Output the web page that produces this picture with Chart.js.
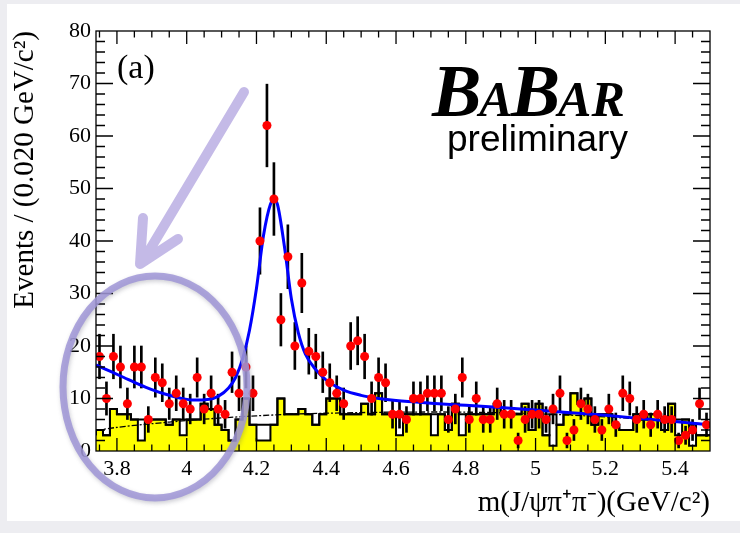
<!DOCTYPE html>
<html lang="en">
<head>
<meta charset="UTF-8">
<title>m(J/psi pi pi)</title>
<script src="https://cdn.jsdelivr.net/npm/chart.js@4.4.0/dist/chart.umd.min.js"></script>
<style>
  html, body { margin: 0; padding: 0; background: #ededf1; }
  #panel { position: absolute; left: 7px; top: 4px; width: 733px; height: 517px; background: #fff; }
  #wrap { position: absolute; left: 0; top: 0; width: 740px; height: 533px; }
</style>
</head>
<body>
<div id="panel"></div>
<div id="wrap"><canvas id="myChart" width="740" height="533"></canvas></div>
<script>
// histogram binning (GeV/c^2)
const binStart = 3.74;
const binWidth = 0.02;

// data points, one per bin
const eventCounts = [
  18,10,18,16,9,16,16,6,14,13,
  9,11,9,8,14,8,11,8,7,15,
  11,16,11,40,62,48,25,37,20,32,
  19,18,15,13,11,9,20,21,18,10,
  14,13,7,7,6,10,10,11,11,11,
  6,8,14,6,10,6,6,9,7,7,
  2,6,7,7,6,8,11,2,4,9,
  8,6,4,8,5,11,10,6,7,5,
  7,6,6,2,3,4,9,5
];

// yellow (filled) sideband histogram
const sidebandFilled = [
  3,4,3,8,7,7,6,2,6,6,
  6,5,6,3,6,6,9,8,5,4,
  2,6,10,5,2,2,5,10,7,7,
  8,7,5,7,10,10,7,7,7,9,
  7,11,7,7,3,7,7,7,7,3,
  7,4,9,3,7,7,7,7,9,7,
  7,7,9,4,9,3,1,5,7,11,
  9,10,5,7,7,5,4,4,7,6,
  7,7,4,9,3,6,1,3
];

// open (outline) histogram
const sidebandOutline = [
  3,4,3,8,7,7,6,6,6,6,
  6,5,6,6,6,6,9,8,5,4,
  2,6,10,5,5,5,5,10,7,7,
  8,7,5,7,10,10,7,7,7,9,
  7,11,7,7,7,7,7,7,7,7,
  7,4,9,7,7,7,7,7,9,7,
  7,7,9,4,9,3,7,5,7,11,
  9,10,5,7,7,5,4,4,7,6,
  7,7,4,9,6,6,5,3
];

// total fit (blue)
const fitX = [3.74,3.78,3.82,3.86,3.90,3.94,3.98,4.02,4.06,4.09,4.12,4.14,4.16,4.18,4.20,4.22,4.24,4.25,4.26,4.28,4.30,4.32,4.34,4.37,4.40,4.45,4.50,4.55,4.60,4.70,4.80,4.90,5.00,5.10,5.20,5.30,5.40,5.50];
const fitY = [16.4,15.2,14.0,12.8,11.7,10.8,10.1,9.7,9.8,10.4,12.0,14.0,17.5,23,31,41,47,47.8,47,39,29,22.5,18.5,15.5,13.5,11.6,10.6,10.0,9.6,9.1,8.7,8.3,7.8,7.3,6.8,6.2,5.6,5.0];

// background component (dashed)
const bkgX = [3.74,3.80,3.90,4.00,4.10,4.20,4.30,4.40,4.60,4.80,5.00,5.20,5.40,5.50];
const bkgY = [3.9,4.5,5.2,5.8,6.3,6.7,7.0,7.2,7.4,7.4,7.1,6.5,5.6,5.1];

const xTickValues = [3.8, 4.0, 4.2, 4.4, 4.6, 4.8, 5.0, 5.2, 5.4];

const serif = "'Liberation Serif', 'Times New Roman', serif";
Chart.defaults.font.family = serif;
Chart.defaults.color = '#000';

function centers() {
  return eventCounts.map((n, i) => ({x: binStart + binWidth * (i + 0.5), y: n}));
}
function histSteps(vals) {
  const pts = vals.map((v, i) => ({x: binStart + binWidth * i, y: v}));
  pts.push({x: binStart + binWidth * vals.length, y: vals[vals.length - 1]});
  return pts;
}
const pointData = centers();
const errorData = pointData.map(p => ({x: p.x, y: [p.y - Math.sqrt(p.y), p.y + Math.sqrt(p.y)]}));

// ROOT-like frame: box, inward ticks, plus the slide annotations
const rootFrame = {
  id: 'rootFrame',
  afterDraw(chart) {
    const {ctx, chartArea: a, scales: {x, y}} = chart;
    ctx.save();
    ctx.strokeStyle = '#000';
    ctx.lineWidth = 1.3;
    ctx.strokeRect(a.left, a.top, a.right - a.left, a.bottom - a.top);
    ctx.beginPath();
    for (let i = 75; i <= 110; i++) {
      const px = x.getPixelForValue(i * 0.05);
      if (px <= a.left + 1 || px >= a.right - 1) continue;
      const len = i % 4 === 0 ? 13 : 6.5;
      ctx.moveTo(px, a.bottom); ctx.lineTo(px, a.bottom - len);
      ctx.moveTo(px, a.top); ctx.lineTo(px, a.top + len);
    }
    for (let v = 2; v < 80; v += 2) {
      const py = y.getPixelForValue(v);
      const len = v % 10 === 0 ? 17 : 9;
      ctx.moveTo(a.left, py); ctx.lineTo(a.left + len, py);
      ctx.moveTo(a.right, py); ctx.lineTo(a.right - len, py);
    }
    ctx.stroke();

    // (a)
    ctx.fillStyle = '#000';
    ctx.textBaseline = 'alphabetic';
    ctx.font = '34px ' + serif;
    ctx.fillText('(a)', 117, 78);

    // BaBar logo
    let bx = 432;
    const parts = [['B', 74], ['A', 50], ['B', 74], ['AR', 50]];
    parts.forEach(([t, s]) => {
      ctx.font = 'italic bold ' + s + 'px ' + serif;
      ctx.fillText(t, bx, 116);
      bx += ctx.measureText(t).width - 2;
    });
    ctx.font = "37px 'Liberation Sans', Arial, sans-serif";
    ctx.fillText('preliminary', 447, 151);

    // lavender ellipse
    ctx.save();
    ctx.shadowColor = 'rgba(90,90,110,0.35)';
    ctx.shadowBlur = 4;
    ctx.shadowOffsetX = 1;
    ctx.shadowOffsetY = 2;
    ctx.strokeStyle = 'rgba(160,150,215,0.85)';
    ctx.lineWidth = 7;
    ctx.beginPath();
    ctx.ellipse(155, 387, 92, 111, 0, 0, Math.PI * 2);
    ctx.stroke();
    ctx.restore();

    // lavender arrow
    ctx.strokeStyle = 'rgba(190,178,228,0.9)';
    ctx.lineWidth = 10;
    ctx.lineCap = 'round';
    ctx.lineJoin = 'round';
    ctx.beginPath();
    ctx.moveTo(244, 92); ctx.lineTo(143, 261);
    ctx.moveTo(143, 218); ctx.lineTo(140, 264); ctx.lineTo(178, 239);
    ctx.stroke();
    ctx.restore();
  }
};

const ctx = document.getElementById('myChart').getContext('2d');
const myChart = new Chart(ctx, {
  type: 'line',
  data: {
    datasets: [
      {
        type: 'scatter', data: pointData, order: 0,
        pointRadius: 4.5, pointBackgroundColor: '#ff0000', pointBorderWidth: 0, showLine: false
      },
      {
        type: 'line', data: fitX.map((v, i) => ({x: v, y: fitY[i]})), order: 1,
        borderColor: '#0000ff', borderWidth: 3, pointRadius: 0, cubicInterpolationMode: 'monotone', fill: false
      },
      {
        type: 'bar', data: errorData, order: 2,
        backgroundColor: '#000', barThickness: 2, borderWidth: 0
      },
      {
        type: 'line', data: bkgX.map((v, i) => ({x: v, y: bkgY[i]})), order: 3,
        borderColor: '#000', borderWidth: 1.3, borderDash: [6, 2, 2, 2], pointRadius: 0, tension: 0.3, fill: false
      },
      {
        type: 'line', data: histSteps(sidebandOutline), order: 4,
        stepped: 'after', borderColor: '#000', borderWidth: 2, pointRadius: 0, fill: false
      },
      {
        type: 'line', data: histSteps(sidebandFilled), order: 5,
        stepped: 'after', borderColor: '#000', borderWidth: 2, pointRadius: 0,
        fill: 'origin', backgroundColor: '#ffff00'
      }
    ]
  },
  options: {
    responsive: false,
    animation: false,
    layout: {padding: {left: 7, right: 30, top: 31, bottom: 0}},
    plugins: {legend: {display: false}, tooltip: {enabled: false}},
    scales: {
      x: {
        type: 'linear', min: binStart, max: 5.5, offset: false,
        grid: {display: false, drawTicks: false, offset: false},
        border: {display: false},
        afterBuildTicks: s => { s.ticks = xTickValues.map(v => ({value: v})); },
        afterFit: s => { s.height = 82; },
        ticks: {
          padding: 5, maxRotation: 0, autoSkip: false,
          font: {size: 22},
          callback: v => String(+Number(v).toFixed(1))
        },
        title: {
          display: true, align: 'end',
          text: 'm(J/\u03c8\u03c0\u207a\u03c0\u207b)(GeV/c\u00b2)',
          font: {size: 29}, padding: {top: 0, bottom: 12}
        }
      },
      y: {
        min: 0, max: 80,
        grid: {display: false, drawTicks: false},
        border: {display: false},
        afterFit: s => { s.width = 89; },
        ticks: {stepSize: 10, padding: 5, font: {size: 22}},
        title: {
          display: true, align: 'end',
          text: 'Events / (0.020 GeV/c\u00b2)',
          font: {size: 29}, padding: {top: 1, bottom: 0}
        }
      }
    }
  },
  plugins: [rootFrame]
});
</script>
</body>
</html>
